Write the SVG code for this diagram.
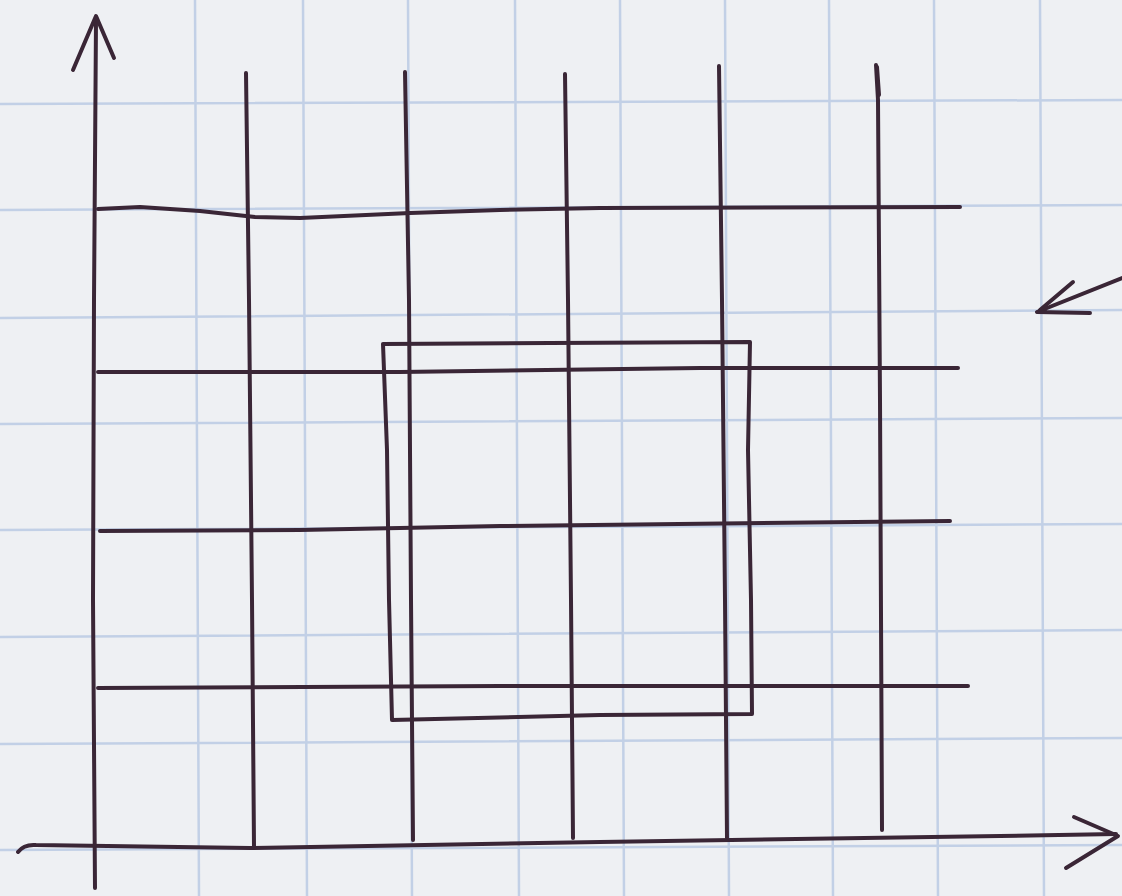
<svg xmlns="http://www.w3.org/2000/svg" width="1122" height="896" viewBox="0 0 1122 896">
<defs>
<style>
.grid{stroke:#c2d0e6;stroke-width:2.5;fill:none}
.ink{stroke:#3a2636;stroke-width:4;fill:none;stroke-linecap:round;stroke-linejoin:round}
</style>
</defs>
<rect x="0" y="0" width="1122" height="896" fill="#eef0f3"/>
<g id="paper-grid">
<path class="grid" d="M195,0 L199,896 M303,0 L307,896 M408,0 L412,896 M515,0 L519,896 M620,0 L624,896 M725,0 L729,896 M829,0 L833,896 M934,0 L938,896 M1040,0 L1044,896"/>
<path class="grid" d="M0,104 L1122,100 M0,210 L1122,205 M0,318 L1122,310 M0,424 L1122,418 M0,530 L1122,524 M0,637 L1122,630 M0,744 L1122,738 M0,850 L1122,845"/>
</g>
<g id="axes">
<path class="ink" d="M95,888 L93,600 L94,300 L96,20"/>
<path class="ink" d="M73,70 L96,16 L114,58"/>
<path class="ink" d="M18,852 Q24,844 36,845 L250,848 L600,842 L1000,836 L1116,834"/>
<path class="ink" d="M1074,817 L1118,836 L1066,868"/>
</g>
<g id="vertical-lines">
<path class="ink" d="M246,73 L249,300 L252,600 L254,846"/>
<path class="ink" d="M405,72 L409,300 L411,600 L413,840"/>
<path class="ink" d="M565,74 L568,300 L571,600 L573,838"/>
<path class="ink" d="M719,66 L722,300 L725,600 L727,838"/>
<path class="ink" d="M876,65 L878,100 L880,400 L882,830"/>
<path class="ink" d="M877,67 L879,95" stroke-width="7"/>
</g>
<g id="horizontal-lines">
<path class="ink" d="M98,209 L140,207 L200,211 L255,217 L300,218 L410,213 L500,210 L600,208 L960,207"/>
<path class="ink" d="M98,372 L400,372 L700,368 L958,368"/>
<path class="ink" d="M100,531 L300,530 L400,528 L500,526 L950,521"/>
<path class="ink" d="M98,688 L500,686 L968,686"/>
</g>
<g id="rectangle">
<path class="ink" d="M383,344 L550,343 L750,342 L748,450 L751,600 L752,714 L600,715 L392,720 L389,600 L387,450 Z"/>
</g>
<g id="side-arrow">
<path class="ink" d="M1122,278 L1037,312 L1090,313"/>
<path class="ink" d="M1073,282 L1040,310"/>
</g>
</svg>
